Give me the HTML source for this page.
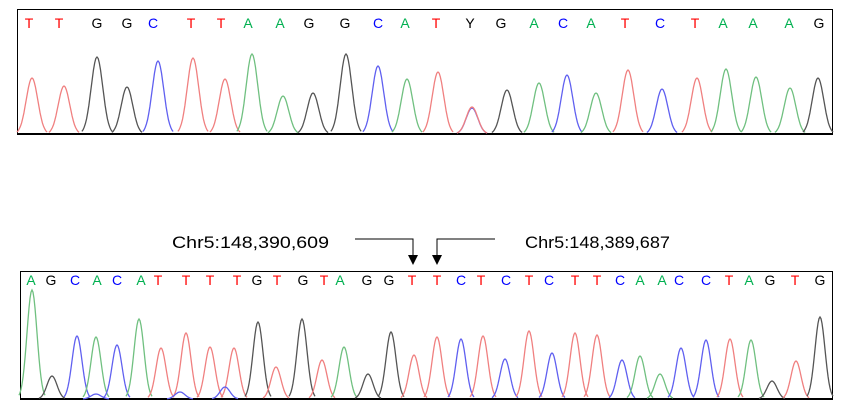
<!DOCTYPE html>
<html><head><meta charset="utf-8"><style>
body{margin:0;background:#fff;width:854px;height:400px;overflow:hidden}
svg{display:block}
</style></head><body>
<svg id="s" width="854" height="400" xmlns="http://www.w3.org/2000/svg" font-family="Liberation Sans, sans-serif">
<rect x="17.5" y="9.5" width="815" height="125" fill="none" stroke="#000" stroke-width="1"/>
<rect x="20.5" y="271.5" width="812" height="140" fill="none" stroke="#000" stroke-width="1"/>
<line x1="17" y1="134" x2="832" y2="134" stroke="#000" stroke-width="2"/>
<line x1="20" y1="399" x2="832" y2="399" stroke="#000" stroke-width="2"/>
<text x="172" y="248" font-size="17" fill="#000" textLength="157" lengthAdjust="spacingAndGlyphs">Chr5:148,390,609</text>
<text x="525" y="248" font-size="17" fill="#000" textLength="145" lengthAdjust="spacingAndGlyphs">Chr5:148,389,687</text>
<polyline points="355,239 413,239 413,256" fill="none" stroke="#000" stroke-width="1"/>
<polygon points="408,255 418,255 413,265" fill="#000"/>
<polyline points="495,239 437,239 437,256" fill="none" stroke="#000" stroke-width="1"/>
<polygon points="432,255 442,255 437,265" fill="#000"/>
<g id="g"></g>
</svg>
<script>
var C={T:'#f00',A:'#00b050',C:'#00f',G:'#000',Y:'#000'};
var PC={T:'#f08080',A:'#70c080',C:'#6060f0',G:'#555'};
var g=document.getElementById('g'),ns='http://www.w3.org/2000/svg';
function txt(x,y,t){var e=document.createElementNS(ns,'text');e.setAttribute('x',x);e.setAttribute('y',y);e.setAttribute('font-size','14');e.setAttribute('fill',C[t]);e.setAttribute('text-anchor','middle');e.textContent=t;g.appendChild(e);}
function peak(x,top,base,col,w){var h=base-top,d='';for(var i=-2.6;i<=2.61;i+=0.2){var y=base-h*Math.exp(-i*i/2);d+=(d?'L':'M')+(x+i*w).toFixed(1)+','+y.toFixed(1);}var p=document.createElementNS(ns,'path');p.setAttribute('d',d);p.setAttribute('fill','none');p.setAttribute('stroke',col);p.setAttribute('stroke-width','1.3');g.appendChild(p);}
var tl="T29 T59 G97 G127 C153 T191 T221 A248 A280 G309 G345 C378 A405 T436 Y470 G501 A534 C563 A591 T625 C660 T695 A723 A753 A789 G819".split(' ');
tl.forEach(function(s){txt(+s.slice(1),28,s[0]);});
var tp=[[32,78,'T'],[64,86,'T'],[97,57,'G'],[127,87,'G'],[158,61,'C'],[193,58,'T'],[225,79,'T'],[252,54,'A'],[283,96,'A'],[313,93,'G'],[346,54,'G'],[378,66,'C'],[407,79,'A'],[438,72,'T'],[472,108,'C'],[472,107,'T'],[507,90,'G'],[539,83,'A'],[567,75,'C'],[596,93,'A'],[628,70,'T'],[662,89,'C'],[697,78,'T'],[726,69,'A'],[756,77,'A'],[790,88,'A'],[818,78,'G']];
tp.forEach(function(p){peak(p[0],p[1],134,PC[p[2]],5.8);});
var bl="A31 G51 C75 A97 C117 A141 T158 T186 T210 T237 G257 T277 G303 T324 A340 G367 G389 T412 T437 C461 T481 C506 T529 C549 T575 T597 C620 A640 A662 C679 C706 T729 A749 G770 T795 G820".split(' ');
bl.forEach(function(s){txt(+s.slice(1),285,s[0]);});
var bp=[[32,290,'A'],[52,376,'G'],[77,336,'C'],[96,337,'A'],[117,345,'C'],[139,319,'A'],[161,348,'T'],[186,333,'T'],[210,347,'T'],[234,348,'T'],[258,322,'G'],[276,367,'T'],[302,319,'G'],[322,360,'T'],[344,347,'A'],[368,374,'G'],[391,332,'G'],[414,355,'T'],[437,337,'T'],[461,339,'C'],[483,336,'T'],[505,359,'C'],[529,331,'T'],[552,353,'C'],[575,333,'T'],[597,335,'T'],[622,360,'C'],[640,356,'A'],[660,374,'A'],[681,348,'C'],[706,340,'C'],[730,339,'T'],[751,340,'A'],[772,381,'G'],[796,361,'T'],[820,317,'G'],[225,387,'C'],[180,392,'C'],[96,394,'C']];
bp.forEach(function(p){peak(p[0],p[1],399,PC[p[2]],5);});
</script>
</body></html>
